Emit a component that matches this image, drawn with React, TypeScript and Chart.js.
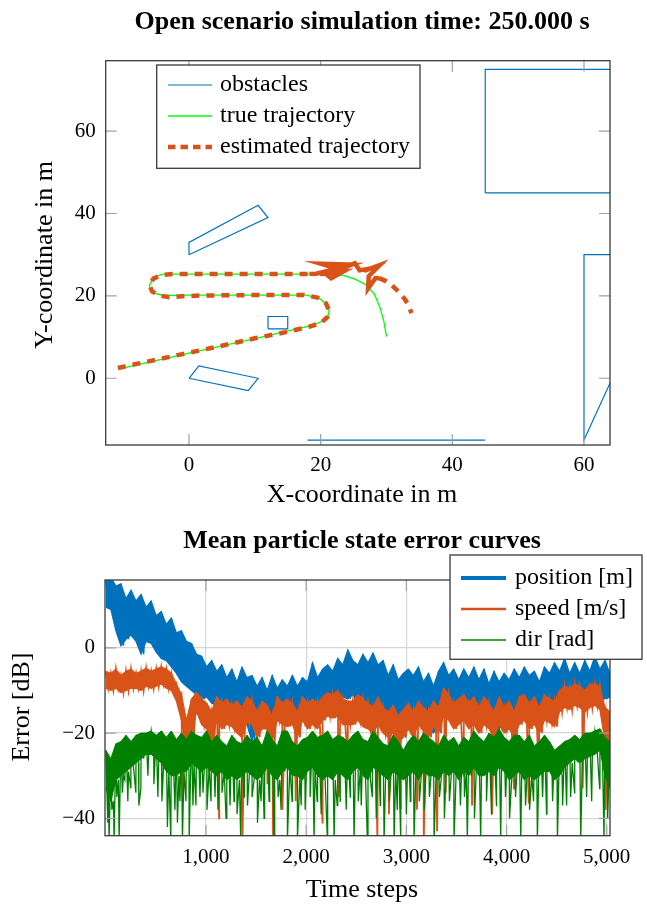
import React, { useEffect, useRef } from "react";
import { Chart, registerables } from "chart.js";

Chart.register(...registerables);

const SERIF = '"Liberation Serif", "Times New Roman", Times, serif';
const BLUE = "#0072BD";
const ORANGE = "#D95319";
const LIME = "#00FF00";
const DGREEN = "#008000";

// ---------------- Top chart: scenario ----------------
const obsTopRectX = [45, 45, 70, 70, 45];
const obsTopRectY = [45, 75, 75, 45, 45];
const obsRightX = [70, 60, 60, 66, 70];
const obsRightY = [30, 30, -15, 6, 10];
const obsFloorX = [18, 45];
const obsFloorY = [-15, -15];
const obsUpperX = [0, 0, 10.5, 12, 0];
const obsUpperY = [30, 33, 42, 39, 30];
const obsSmallX = [12, 12, 15, 15, 12];
const obsSmallY = [12, 15, 15, 12, 12];
const obsLowerX = [0, 1.5, 10.5, 9, 0];
const obsLowerY = [0, 3, 0, -3, 0];

const trueX = [-10.6, 0, 10, 18.9, 20.3, 21.1, 21.3, 21, 20, 17.9, 10, 0, -3.9, -5.2, -5.9, -6, -5.6, -4.9, -3.9, 10, 21.5, 23.5, 25.3, 27, 28.2, 29, 29.6, 30];
const trueY = [2.3, 6.1, 9.6, 12.9, 13.9, 15.2, 16.2, 17.6, 19.2, 20.2, 20.2, 20.2, 20.1, 20.6, 21.6, 22.6, 23.8, 24.8, 25.3, 25.3, 25.3, 25, 24, 22.6, 20.3, 17.2, 13.8, 10.1];

const estX = [-10.8, -5, 0, 5, 10, 15, 18.2, 20, 21, 21.3, 20.8, 19.5, 17.5, 10, 2, -1, -3, -4.5, -5.6, -6, -5.4, -4.2, -2.5, 5, 12, 16, 18.3, 19.3, 22.5, 20, 24.6, 21.2, 19.9, 23.4, 21.6, 20.9, 25.2, 25.9, 27.3, 26.6, 29, 27.3, 27.2, 28.3, 28.9, 29.9, 30.8, 31.6, 32.6, 33.2, 33.8];
const estY = [2.5, 4.5, 6.2, 7.9, 9.7, 11.3, 12.5, 13.4, 14.8, 16.4, 18.2, 19.6, 20.2, 20.2, 20.1, 19.9, 19.7, 20.1, 21.1, 22.6, 24.2, 25.1, 25.3, 25.3, 25.3, 25.3, 25.3, 25.4, 26.6, 27.8, 27.6, 25.9, 25.3, 25.9, 24.3, 25.2, 27.9, 26.2, 26.6, 26.1, 27.5, 24.8, 21.8, 24.3, 24.3, 23.6, 22.6, 21.4, 19.6, 18.2, 15.8];
const estSolidFrom = 26; // indices of the jittery cluster drawn without gaps
const estSolidTo = 44;

const topXTicks = [0, 20, 40, 60];
const topYTicks = [0, 20, 40, 60];

// ---------------- Bottom chart: error curves (dB) ----------------
const STEP = 50.33; // time-step spacing of the envelope samples
const blueHi = [
  16, 16.5, 14.5, 15, 11.5, 13.5, 11, 12.5, 9.5, 11,
  7.5, 8.5, 5.5, 7, 3.5, 4, 1.5, 1, -1.5, -2,
  -4.5, -3, -5.5, -4, -7, -5, -8, -4.5, -7, -6.5,
  -9, -7, -10, -6.5, -9.5, -7.5, -9, -6.5, -9, -7,
  -8, -3.5, -7, -5, -4, -5.5, -2.5, -4, -0.5, -3,
  -4, -1.5, -3.5, -1.2, -4, -3, -6.5, -4, -7.5, -6,
  -5, -6.5, -4.5, -8, -6, -9, -5.5, -3.5, -6.5, -5,
  -7.5, -5, -7, -4.5, -7.5, -5, -8.5, -5.5, -8, -6,
  -7.5, -5, -7, -4.5, -6.5, -5.5, -8, -4.5, -6, -3.5,
  -5.5, -2.5, -6, -3.5, -6, -3, -5.5, -2, -5, -3,
  -6,
];
const blueLo = [
  9.5, 9, 4, 0.5, 2, 3, 1.5, -1.5, 1.5, 1,
  -1, -2.5, -3, -4.5, -6, -8, -9, -10, -11, -12,
  -11.5, -13, -13.5, -15, -15.5, -16, -17, -16, -18, -22,
  -17, -18, -17, -18.5, -16, -15, -17, -17, -16, -15.5,
  -14, -13, -14, -12.5, -12, -13, -12, -11.5, -12, -11,
  -13, -12, -13.5, -15, -16, -17, -18, -20, -22, -21,
  -17, -17, -18, -16, -19, -20, -18, -16, -15, -17,
  -16, -17, -16, -17, -15, -18, -18, -17, -19, -17,
  -16, -17, -15, -16, -16, -15, -16, -14, -14, -15,
  -13, -14, -13, -13.5, -12, -13, -12.5, -11, -12, -12,
  -11.5,
];
const orangeHi = [
  -5.5, -6, -5, -6.5, -5.5, -5, -6, -5.5, -4.8, -5.5,
  -5, -4.5, -5, -6, -8.5, -11, -17, -12, -10.5, -12,
  -13, -15, -11.5, -13, -12, -13.5, -12.5, -14, -11.5, -12.5,
  -15, -12.5, -13.5, -16, -11.5, -13, -12, -13, -15, -11.5,
  -13, -12, -13, -11.5, -10.5, -11, -10, -12, -12.5, -12.5,
  -11, -12, -13, -14, -11.5, -14, -15, -13.5, -16, -14.5,
  -13, -15, -12.5, -14, -15, -12.5, -14, -9.5, -11, -13,
  -12, -11, -13, -11.5, -14, -11.5, -13, -15, -11.5, -14,
  -12.5, -15, -11.5, -11, -13, -11.5, -14, -11, -12, -12.5,
  -10, -9, -9.5, -8.5, -9, -10, -8.5, -8.5, -9, -14,
  -15,
];
const orangeLo = [
  -9.5, -10, -9.5, -10.5, -10, -9.5, -9.5, -10, -9, -9.5,
  -9, -8.5, -9.5, -10, -12.5, -17, -24, -20, -15, -18,
  -19, -22, -17, -19, -18, -18.5, -20, -21, -17.5, -18,
  -21, -19, -19, -22, -17, -18, -18.5, -18, -21, -17,
  -19, -18, -19, -17, -16, -16.5, -16, -18, -18, -18,
  -17, -18.5, -19, -20, -18, -20, -21, -20, -22, -21,
  -19, -21, -18, -19.5, -21, -18.5, -20, -16, -17, -19,
  -18, -17, -19, -18, -20, -18, -19, -21, -18, -20,
  -19, -21, -18, -17, -19, -18, -20, -17, -17.5, -18.5,
  -15, -14, -14.5, -13.5, -14, -15, -14, -13.5, -14.5, -22,
  -25,
];
const greenHi = [
  -24, -26, -22.5, -22, -20.5, -22, -20.5, -20, -20, -19.5,
  -20.5, -19.5, -21, -19.5, -21.5, -20, -21.5, -19.5, -20.5, -21,
  -19.5, -22, -20.5, -22, -23, -20.5, -22, -22.5, -20.5, -22,
  -21, -23, -19.5, -21.5, -23, -19.5, -19.5, -22, -23, -21.5,
  -21, -19.5, -21, -20.5, -19.5, -21.5, -20.5, -21, -22, -20.5,
  -19.5, -21.5, -22, -19.5, -21, -22.5, -23, -20.5, -22, -24,
  -22, -20.5, -22, -20, -21, -22, -23, -20.5, -22, -21,
  -23, -21, -22, -19.5, -21, -22, -20, -21, -19, -21,
  -22, -20.5, -20.5, -22, -20.5, -23, -22, -20.5, -22, -24,
  -23, -22, -21.5, -20.5, -21.5, -20, -20, -19.5, -19, -21,
  -22,
];
const greenLo = [
  -33, -36, -31, -30, -29, -28, -27, -26, -25, -25,
  -26, -27, -29, -30, -30, -29, -29, -27, -28, -29,
  -28, -29, -30, -29, -31, -30, -31, -30, -29, -30,
  -31, -30, -28, -30, -31, -29, -28, -30, -30, -31,
  -29, -28, -30, -31, -30, -31, -29, -30, -31, -29,
  -28, -30, -31, -28, -29, -30, -31, -29, -30, -31,
  -30, -29, -31, -29, -30, -30, -31, -29, -30, -29,
  -31, -29, -30, -28, -30, -30, -29, -30, -28, -29,
  -31, -30, -29, -31, -30, -31, -30, -29, -29, -31,
  -30, -28, -27, -26, -27, -26, -25.5, -25, -24, -30,
  -33,
];
const orangeSpikeX = [765, 1031, 1131, 1364, 1613, 1670, 1763, 1896, 2163, 2325, 2412, 2711, 2826, 2941, 3107, 3174, 3307, 3393, 3573, 3656, 3856, 4075, 4222, 4321, 4760, 4990];
const orangeSpikeY = [-36, -29, -40, -45, -32, -45, -38, -36, -41, -35, -25.5, -45, -39, -37.6, -38, -45, -43, -34, -30, -37, -39, -33, -36.5, -30, -33, -38];
const greenSpikeX = [20, 33, 60, 83, 110, 133, 165, 190, 220, 250, 300, 330, 350, 420, 480, 520, 560, 615, 649, 690, 715, 740, 765, 800, 832, 870, 900, 940, 970, 1010, 1050, 1090, 1120, 1160, 1200, 1240, 1280, 1310, 1347, 1380, 1414, 1460, 1514, 1550, 1580, 1630, 1680, 1720, 1750, 1813, 1860, 1913, 1950, 1990, 2040, 2079, 2110, 2150, 2212, 2279, 2310, 2340, 2400, 2440, 2478, 2520, 2550, 2611, 2660, 2700, 2740, 2778, 2830, 2878, 2910, 2944, 3000, 3040, 3077, 3130, 3180, 3230, 3277, 3330, 3380, 3430, 3476, 3540, 3580, 3609, 3680, 3742, 3800, 3850, 3900, 3942, 3990, 4030, 4090, 4142, 4190, 4230, 4270, 4308, 4360, 4400, 4460, 4508, 4560, 4600, 4640, 4680, 4741, 4800, 4850, 4930, 4973, 5010];
const greenSpikeY = [-41, -45, -38, -45, -35, -45, -34, -31, -36, -33, -34, -37, -33, -30, -32, -35, -36, -42, -45, -38, -41, -36, -45, -36, -45, -37, -37, -35, -34, -38, -36, -35, -38, -34, -40, -37, -36, -39, -45, -35, -37, -35, -41, -36, -40, -36, -45, -35, -38, -45, -36, -45, -37, -38, -35, -45, -36, -39, -45, -45, -37, -36, -38, -35, -45, -36, -37, -45, -35, -40, -37, -45, -36, -45, -38, -45, -39, -36, -45, -36, -38, -35, -45, -35, -40, -36, -45, -37, -35, -45, -40, -45, -36, -39, -37, -45, -35, -40, -35, -45, -37, -38, -36, -45, -35, -39, -36, -45, -37, -37, -35, -34, -45, -35, -36, -33, -45, -40];

const botXTicks = [1000, 2000, 3000, 4000, 5000];
const botYTicks = [-40, -20, 0];

// ---------------- layout ----------------
const W = 647;
const TOP_H = 510;
const BOT_H = 395;

function pts(xs: number[], ys: number[]) {
  return xs.map((x, i) => ({ x, y: ys[i] }));
}
function joinShapes(shapes: [number[], number[]][]) {
  const out: any[] = [];
  shapes.forEach(([xs, ys], k) => {
    if (k > 0) out.push({ x: xs[0], y: null });
    xs.forEach((x, i) => out.push({ x, y: ys[i] }));
  });
  return out;
}
const fmtNum = (v: number) => (v < 0 ? "\u2212" + Math.abs(v) : String(v));

type TextSpec = { text: string; x: number; y: number; size: number; bold?: boolean; rotate?: boolean };
type LegendItem = { label: string; color: string; width: number; dash?: number[]; y: number };
type LegendSpec = { x0: number; y0: number; x1: number; y1: number; lineX0: number; lineX1: number; textX: number; size: number; items: LegendItem[] };

function decor(xTicks: number[], yTicks: number[], texts: TextSpec[], legend: LegendSpec) {
  return {
    id: "decor",
    afterDraw(chart: any) {
      const ctx = chart.ctx;
      const a = chart.chartArea;
      const sx = chart.scales.x;
      const sy = chart.scales.y;
      ctx.save();
      ctx.setLineDash([]);
      ctx.strokeStyle = "#a0a0a0";
      ctx.lineWidth = 1.2;
      ctx.beginPath();
      xTicks.forEach((v) => {
        const p = sx.getPixelForValue(v);
        ctx.moveTo(p, a.bottom);
        ctx.lineTo(p, a.bottom - 11);
        ctx.moveTo(p, a.top);
        ctx.lineTo(p, a.top + 11);
      });
      yTicks.forEach((v) => {
        const p = sy.getPixelForValue(v);
        ctx.moveTo(a.left, p);
        ctx.lineTo(a.left + 11, p);
        ctx.moveTo(a.right, p);
        ctx.lineTo(a.right - 11, p);
      });
      ctx.stroke();
      ctx.strokeStyle = "#3a3a3a";
      ctx.lineWidth = 1.3;
      ctx.strokeRect(a.left, a.top, a.right - a.left, a.bottom - a.top);

      ctx.fillStyle = "#000";
      ctx.textAlign = "center";
      ctx.textBaseline = "middle";
      texts.forEach((t) => {
        ctx.font = `${t.bold ? "bold " : ""}${t.size}px ${SERIF}`;
        if (t.rotate) {
          ctx.save();
          ctx.translate(t.x, t.y);
          ctx.rotate(-Math.PI / 2);
          ctx.fillText(t.text, 0, 0);
          ctx.restore();
        } else {
          ctx.fillText(t.text, t.x, t.y);
        }
      });

      const L = legend;
      ctx.fillStyle = "#fff";
      ctx.fillRect(L.x0, L.y0, L.x1 - L.x0, L.y1 - L.y0);
      ctx.strokeStyle = "#3a3a3a";
      ctx.lineWidth = 1.3;
      ctx.strokeRect(L.x0, L.y0, L.x1 - L.x0, L.y1 - L.y0);
      L.items.forEach((it) => {
        ctx.beginPath();
        ctx.setLineDash(it.dash || []);
        ctx.lineCap = "butt";
        ctx.strokeStyle = it.color;
        ctx.lineWidth = it.width;
        ctx.moveTo(L.lineX0, it.y);
        ctx.lineTo(L.lineX1, it.y);
        ctx.stroke();
        ctx.setLineDash([]);
        ctx.fillStyle = "#000";
        ctx.font = `${L.size}px ${SERIF}`;
        ctx.textAlign = "left";
        ctx.textBaseline = "middle";
        ctx.fillText(it.label, L.textX, it.y);
      });
      ctx.restore();
    },
  };
}

const tickFont = { family: SERIF, size: 21 };

function topConfig(): any {
  return {
    type: "line",
    data: {
      datasets: [
        {
          label: "estimated trajectory",
          data: pts(estX, estY),
          borderColor: ORANGE,
          borderWidth: 4.5,
          borderDash: [8, 7],
          borderCapStyle: "butt",
          borderJoinStyle: "miter",
          fill: false,
          segment: {
            borderDash: (c: any) => (c.p0DataIndex >= estSolidFrom && c.p0DataIndex < estSolidTo ? [] : undefined),
          },
        },
        { label: "true trajectory", data: pts(trueX, trueY), borderColor: LIME, borderWidth: 1.3, fill: false },
        {
          label: "obstacles",
          data: joinShapes([
            [obsTopRectX, obsTopRectY],
            [obsRightX, obsRightY],
            [obsFloorX, obsFloorY],
            [obsUpperX, obsUpperY],
            [obsSmallX, obsSmallY],
            [obsLowerX, obsLowerY],
          ]),
          borderColor: BLUE,
          borderWidth: 1.2,
          spanGaps: false,
          fill: false,
        },
      ],
    },
    options: {
      responsive: false,
      animation: false,
      events: [],
      elements: { point: { radius: 0 }, line: { tension: 0 } },
      layout: { padding: { left: 0, top: 60.7, right: W - 610, bottom: 0 } },
      plugins: { legend: { display: false }, title: { display: false }, tooltip: { enabled: false } },
      scales: {
        x: {
          type: "linear",
          min: -12.65,
          max: 63.95,
          grid: { display: false, drawTicks: false },
          border: { display: false },
          afterBuildTicks: (s: any) => { s.ticks = topXTicks.map((v) => ({ value: v })); },
          afterFit: (s: any) => { s.height = TOP_H - 445; },
          ticks: { font: tickFont, color: "#000", padding: 8, maxRotation: 0, autoSkip: false, callback: (v: any) => fmtNum(v) },
        },
        y: {
          type: "linear",
          min: -16.2,
          max: 77.1,
          grid: { display: false, drawTicks: false },
          border: { display: false },
          afterBuildTicks: (s: any) => { s.ticks = topYTicks.map((v) => ({ value: v })); },
          afterFit: (s: any) => { s.width = 105.7; },
          ticks: { font: tickFont, color: "#000", padding: 10, autoSkip: false, callback: (v: any) => fmtNum(v) },
        },
      },
    },
    plugins: [
      decor(
        topXTicks,
        topYTicks,
        [
          { text: "Open scenario simulation time: 250.000 s", x: 362, y: 22, size: 26, bold: true },
          { text: "X-coordinate in m", x: 362, y: 495, size: 26 },
          { text: "Y-coordinate in m", x: 45, y: 255, size: 26, rotate: true },
        ],
        {
          x0: 156.7, y0: 65, x1: 420, y1: 168.3, lineX0: 168, lineX1: 212, textX: 220, size: 24,
          items: [
            { label: "obstacles", color: BLUE, width: 1.2, y: 85 },
            { label: "true trajectory", color: LIME, width: 1.3, y: 116 },
            { label: "estimated trajectory", color: ORANGE, width: 4.5, dash: [7.5, 5], y: 147 },
          ],
        }
      ),
    ],
  };
}

function botConfig(): any {
  const T = blueHi.map((_, i) => i * STEP);
  const band = (hi: number[], lo: number[], color: string, lw: number) => [
    { data: T.map((x, i) => ({ x, y: hi[i] })), borderColor: color, borderWidth: lw, fill: false },
    { data: T.map((x, i) => ({ x, y: lo[i] })), borderColor: color, borderWidth: lw, backgroundColor: color, fill: "-1" },
  ];
  // noisy trace: alternate upper / lower envelope samples, with the read-off dips merged in by time
  const trace = (hi: number[], lo: number[], sxs: number[], sys: number[], color: string, lw: number) => {
    const p: any[] = [];
    hi.forEach((v, i) => {
      p.push({ x: T[i], y: v });
      p.push({ x: T[i] + STEP / 2, y: lo[i] });
    });
    sxs.forEach((x, i) => p.push({ x, y: sys[i] }));
    p.sort((a, b) => a.x - b.x);
    return { data: p, borderColor: color, borderWidth: lw, fill: false };
  };
  return {
    type: "line",
    data: {
      datasets: [
        trace(greenHi, greenLo, greenSpikeX, greenSpikeY, DGREEN, 1.3),
        ...band(greenHi, greenLo, DGREEN, 1),
        trace(orangeHi, orangeLo, orangeSpikeX, orangeSpikeY, ORANGE, 1.8),
        ...band(orangeHi, orangeLo, ORANGE, 1.2),
        trace(blueHi, blueLo, [], [], BLUE, 1.5),
        ...band(blueHi, blueLo, BLUE, 1.2),
      ],
    },
    options: {
      responsive: false,
      animation: false,
      events: [],
      elements: { point: { radius: 0 }, line: { tension: 0 } },
      layout: { padding: { left: 0, top: 70, right: W - 610, bottom: 0 } },
      plugins: { legend: { display: false }, title: { display: false }, tooltip: { enabled: false } },
      scales: {
        x: {
          type: "linear",
          min: -8,
          max: 5033,
          grid: { display: true, drawTicks: false, color: "#d6d6d6", lineWidth: 1.2 },
          border: { display: false },
          afterBuildTicks: (s: any) => { s.ticks = botXTicks.map((v) => ({ value: v })); },
          afterFit: (s: any) => { s.height = BOT_H - 325.7; },
          ticks: { font: tickFont, color: "#000", padding: 9, maxRotation: 0, autoSkip: false, callback: (v: any) => Number(v).toLocaleString("en-US") },
        },
        y: {
          type: "linear",
          min: -44.06,
          max: 15.9,
          grid: { display: true, drawTicks: false, color: "#d6d6d6", lineWidth: 1.2 },
          border: { display: false },
          afterBuildTicks: (s: any) => { s.ticks = botYTicks.map((v) => ({ value: v })); },
          afterFit: (s: any) => { s.width = 105; },
          ticks: { font: tickFont, color: "#000", padding: 10, autoSkip: false, callback: (v: any) => fmtNum(v) },
        },
      },
    },
    plugins: [
      decor(
        botXTicks,
        botYTicks,
        [
          { text: "Mean particle state error curves", x: 362, y: 31, size: 26, bold: true },
          { text: "Time steps", x: 362, y: 380, size: 26 },
          { text: "Error [dB]", x: 22, y: 197, size: 26, rotate: true },
        ],
        {
          x0: 450, y0: 45, x1: 642, y1: 149.3, lineX0: 461, lineX1: 506, textX: 515, size: 24,
          items: [
            { label: "position [m]", color: BLUE, width: 4, y: 68 },
            { label: "speed [m/s]", color: ORANGE, width: 2.5, y: 99 },
            { label: "dir [rad]", color: DGREEN, width: 1.3, y: 130 },
          ],
        }
      ),
    ],
  };
}

export default function App() {
  const topRef = useRef<HTMLCanvasElement>(null);
  const botRef = useRef<HTMLCanvasElement>(null);
  useEffect(() => {
    const c1 = new Chart(topRef.current as HTMLCanvasElement, topConfig());
    const c2 = new Chart(botRef.current as HTMLCanvasElement, botConfig());
    return () => {
      c1.destroy();
      c2.destroy();
    };
  }, []);
  return (
    <div style={{ position: "absolute", left: 0, top: 0, width: W, height: TOP_H + BOT_H, background: "#fff" }}>
      <canvas ref={topRef} width={W} height={TOP_H} style={{ position: "absolute", left: 0, top: 0, width: W, height: TOP_H, display: "block" }} />
      <canvas ref={botRef} width={W} height={BOT_H} style={{ position: "absolute", left: 0, top: TOP_H, width: W, height: BOT_H, display: "block" }} />
    </div>
  );
}
